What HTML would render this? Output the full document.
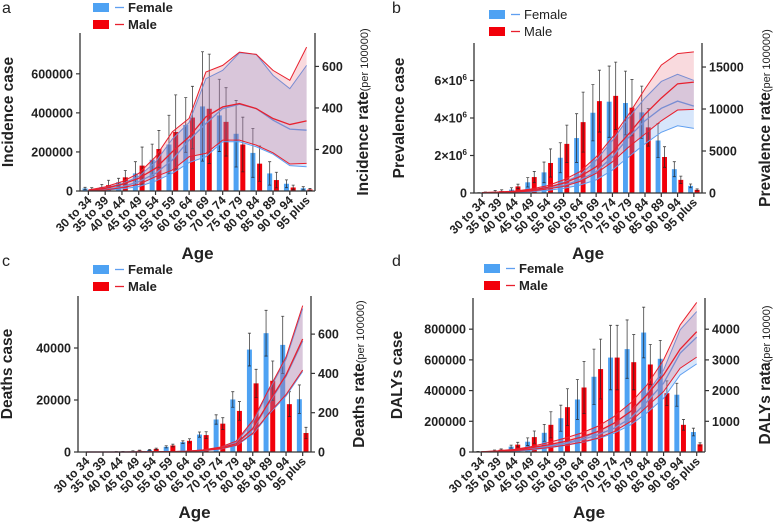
<!DOCTYPE html>
<html><head><meta charset="utf-8"><style>
body{margin:0;background:#fff;}
svg{font-family:"Liberation Sans",Arial,sans-serif;}
</style></head><body>
<svg id="chart" width="777" height="522" viewBox="0 0 777 522" xmlns="http://www.w3.org/2000/svg"></svg>
<script>
const ages = ["30 to 34","35 to 39","40 to 44","45 to 49","50 to 54","55 to 59","60 to 64","65 to 69","70 to 74","75 to 79","80 to 84","85 to 89","90 to 94","95 plus"];

// Panel a: incidence
const incF = [13000,20000,45000,90000,160000,238000,338000,433000,387000,293000,195000,90000,37000,14000];
const incM = [9000,30000,70000,130000,215000,302000,376000,421000,354000,238000,140000,56000,18000,8000];
const incFErr = [6000,14000,20000,60000,80000,150000,140000,280000,185000,170000,125000,60000,20000,8000];
const incMErr = [8000,25000,35000,95000,95000,190000,160000,280000,175000,140000,90000,40000,12000,5000];
const incRateFUp = [4,15,35,70,140,250,330,541,581,666,658,557,493,605];
const incRateFMid = [2,8,20,45,85,149,245,325,397,418,397,341,298,293];
const incRateFLo = [1,4,10,21,48,85,137,165,237,237,213,178,122,117];
const incRateMUp = [5,20,45,85,165,285,350,573,605,669,658,581,533,693];
const incRateMMid = [2,13,32,61,109,189,261,357,405,421,397,349,320,338];
const incRateMLo = [0,5,16,32,69,101,165,181,245,245,221,184,130,133];

// Panel b: prevalence
const prevF = [10000,80000,180000,570000,1100000,1880000,2930000,4280000,4870000,4800000,4300000,2800000,1270000,380000];
const prevM = [30000,100000,350000,850000,1600000,2620000,3780000,4900000,5180000,4550000,3500000,1920000,700000,170000];
const prevFErr = [10000,50000,100000,250000,550000,800000,1300000,1500000,1900000,1700000,1400000,900000,400000,100000];
const prevMErr = [20000,70000,120000,300000,750000,1000000,1600000,1650000,1800000,1500000,1000000,550000,200000,50000];
const prevRateFUp = [20,80,150,350,660,1250,2150,3900,6250,8980,11300,13280,14140,13400];
const prevRateFMid = [10,60,110,250,500,900,1560,2540,4300,6640,8600,10080,10940,10350];
const prevRateFLo = [5,40,70,150,310,550,940,1560,2730,4300,5860,7230,8000,7700];
const prevRateMUp = [40,120,230,470,860,1560,2540,4300,6640,9375,12400,15234,16600,16800];
const prevRateMMid = [40,80,200,350,660,1170,1950,3125,4880,7030,9375,11300,13000,13200];
const prevRateMLo = [0,30,120,230,470,780,1370,2340,3710,5470,7030,8600,9880,9960];

// Panel c: deaths
const dthF = [0,0,150,300,800,2000,3800,6700,12500,20200,39400,45700,41200,20300];
const dthM = [0,0,200,500,1200,2500,4300,6500,10900,15800,26400,27400,18400,7300];
const dthFErr = [0,0,50,150,200,400,500,1000,1800,3000,6300,8800,11000,5500];
const dthMErr = [0,0,50,200,300,500,800,1300,2300,3600,5400,7600,4800,2200];
const dthRateFUp = [0,0,0,1,1,2,4,10,22,50,150,318,472,730];
const dthRateFMid = [0,0,0,0,1,1,3,8,18,40,115,252,385,565];
const dthRateFLo = [0,0,0,0,0,1,2,6,14,32,90,195,285,410];
const dthRateMUp = [0,0,0,1,1,2,4,11,24,55,160,325,483,745];
const dthRateMMid = [0,0,0,0,1,1,3,9,19,42,120,258,392,575];
const dthRateMLo = [0,0,0,0,0,1,2,7,15,34,95,200,292,417];

// Panel d: DALYs
const dalF = [3000,10000,35000,67000,125000,220000,342000,490000,615000,670000,778000,607000,373000,130000];
const dalM = [3000,15000,48000,97000,177000,292000,420000,540000,615000,585000,570000,383000,177000,50000];
const dalFErr = [1000,3000,10000,25000,55000,85000,130000,180000,210000,190000,165000,120000,75000,25000];
const dalMErr = [1000,5000,15000,40000,85000,120000,170000,195000,210000,180000,130000,80000,35000,10000];
const dalRateFUp = [5,20,55,110,190,290,430,660,935,1315,1910,2670,3980,4575];
const dalRateFMid = [3,12,35,80,175,260,390,555,770,1100,1640,2240,3220,3740];
const dalRateFLo = [2,8,25,60,130,207,300,425,610,880,1280,1750,2510,2870];
const dalRateMUp = [10,40,87,175,300,445,610,830,1150,1590,2185,3000,4140,4870];
const dalRateMMid = [5,25,60,140,230,337,480,660,935,1315,1860,2510,3350,3920];
const dalRateMLo = [3,15,40,87,140,217,315,445,660,990,1480,1970,2730,3090];

const leftTicksA = [0,200000,400000,600000];
const rightTicksA = [200,400,600];
const leftTicksB = [0,2,4,6];
const rightTicksB = [0,5000,10000,15000];
const leftTicksC = [0,20000,40000];
const rightTicksC = [0,200,400,600];
const leftTicksD = [0,200000,400000,600000,800000];
const rightTicksD = [1000,2000,3000,4000];

const svg = document.getElementById('chart');
const NS = 'http://www.w3.org/2000/svg';
function mk(tag, attrs, parent, text){
  const e = document.createElementNS(NS, tag);
  for (const k in attrs) e.setAttribute(k, attrs[k]);
  if (text !== undefined) e.textContent = text;
  (parent||svg).appendChild(e);
  return e;
}

function panel(cfg){
  const g = mk('g', {});
  
  
  const x0 = cfg.x0, x1 = cfg.x1, base = cfg.base, top = cfg.top;
  const bw = (x1 - x0) / ages.length;
  const cx = i => x0 + bw * (i + 0.5);
  const yL = v => base - v / cfg.lMax * (base - top);
  const yR = v => base - v / cfg.rMax * (base - top);
  const barW = bw * 0.3;
  function bars(vals, errs, color, off, who){
    vals.forEach((v, i) => {
      const x = cx(i) + off - barW / 2;
      const r = mk('rect', {x: x, y: yL(v), width: barW, height: base - yL(v), fill: color}, g);
      
      
      const e = errs[i];
      if (e > 0) {
        const ex = cx(i) + off;
        const el = mk('path', {d: `M${ex},${yL(v+e)}V${yL(Math.max(0,v-e))}M${ex-1.5},${yL(v+e)}h3M${ex-1.5},${yL(Math.max(0,v-e))}h3`, stroke: '#222', 'stroke-width': 0.8, fill: 'none', opacity: 0.85}, g);
        
        
      }
    });
  }
  bars(cfg.f, cfg.fe, '#4ea2f3', -bw * 0.2, 'female');
  bars(cfg.m, cfg.me, '#f2000a', bw * 0.2, 'male');
  function band(up, mid, lo, stroke, fill, who){
    const pu = up.map((v, i) => `${cx(i)},${yR(v)}`);
    const pl = lo.map((v, i) => `${cx(i)},${yR(v)}`).reverse();
    const a = mk('polygon', {points: pu.concat(pl).join(' '), fill: fill, stroke: 'none'}, g);
    
    
    [up, mid, lo].forEach((arr, k) => {
      const l = mk('polyline', {points: arr.map((v, i) => `${cx(i)},${yR(v)}`).join(' '), fill: 'none', stroke: stroke, 'stroke-width': k === 1 ? 1.3 : 1}, g);
      
      
    });
  }
  band(cfg.fu, cfg.fm, cfg.fl, '#5f9ff0', 'rgba(110,165,240,0.28)', 'female');
  band(cfg.mu, cfg.mm, cfg.ml, '#e8202e', 'rgba(225,70,90,0.2)', 'male');
  const ax = mk('path', {d: `M${x0},${top}V${base}H${x1}M${x1},${top}V${base}`, stroke: '#333', 'stroke-width': 1.3, fill: 'none'}, g);
  
  
  cfg.lt.forEach(t => {
    const y = yL(t * (cfg.lUnit || 1));
    mk('line', {x1: x0 - 4, x2: x0, y1: y, y2: y, stroke: '#333', 'stroke-width': 1.2}, g);
    const tx = mk('text', {x: x0 - 7, y: y + 4.5, 'text-anchor': 'end', 'font-size': 12.5, 'font-weight': 'bold', fill: '#222'}, g, cfg.lFmt ? '' : String(t));
    if (cfg.lFmt) cfg.lFmt(tx, t);
    
    
  });
  cfg.rt.forEach(t => {
    const y = yR(t);
    mk('line', {x1: x1, x2: x1 + 4, y1: y, y2: y, stroke: '#333', 'stroke-width': 1.2}, g);
    const tx = mk('text', {x: x1 + 7, y: y + 4.5, 'font-size': 12.5, 'font-weight': 'bold', fill: '#222'}, g, String(t));
    
    
  });
  ages.forEach((a, i) => {
    mk('line', {x1: cx(i), x2: cx(i), y1: base, y2: base + 4, stroke: '#333', 'stroke-width': 1.2}, g);
    const ax_ = cx(i) + 4, ay = base + 10;
    const tx = mk('text', {x: ax_, y: ay, 'text-anchor': 'end', 'font-size': 12, 'font-weight': 'bold', fill: '#222', transform: `rotate(-45 ${ax_} ${ay})`}, g, a);
    
    
  });
  const age = mk('text', {x: (x0 + x1) / 2, y: cfg.ageY, 'text-anchor': 'middle', 'font-size': 17, 'font-weight': 'bold', fill: '#222'}, g, 'Age');
  
  
  const my = (top + base) / 2;
  const lt = mk('text', {x: cfg.lTitleX, y: my, 'text-anchor': 'middle', 'font-size': 15.5, 'font-weight': 'bold', fill: '#222', transform: `rotate(-90 ${cfg.lTitleX} ${my})`}, g, cfg.lTitle);
  
  
  const rt = mk('text', {x: cfg.rTitleX, y: my, 'text-anchor': 'middle', 'font-size': 15.5, 'font-weight': 'bold', fill: '#222', transform: `rotate(-90 ${cfg.rTitleX} ${my})`}, g);
  mk('tspan', {}, rt, cfg.rTitle);
  mk('tspan', {'font-size': 11, 'font-weight': 'normal'}, rt, cfg.rSub);
  
  
  const lg = mk('g', {}, g);
  
  
  [['Female', '#4ea2f3', '#5f9ff0'], ['Male', '#f2000a', '#e8202e']].forEach((it, k) => {
    const y = cfg.legY + k * 17;
    mk('rect', {x: cfg.legX, y: y, width: 16, height: 9, fill: it[1]}, lg);
    mk('line', {x1: cfg.legX + 22, x2: cfg.legX + 31, y1: y + 4.5, y2: y + 4.5, stroke: it[2], 'stroke-width': 1.3}, lg);
    const t = mk('text', {x: cfg.legX + 35, y: y + 9, 'font-size': 13, 'font-weight': cfg.legBold ? 'bold' : 'normal', fill: '#222'}, lg, it[0]);
    
    
  });
  const pl = mk('text', {x: cfg.px, y: cfg.py, 'font-size': 16, fill: '#222'}, g, cfg.id);
  
  
}

panel({id:'a', x0:80, x1:315, base:191, top:33, lMax:809000, rMax:761,
  f:incF, m:incM, fe:incFErr, me:incMErr,
  fu:incRateFUp, fm:incRateFMid, fl:incRateFLo, mu:incRateMUp, mm:incRateMMid, ml:incRateMLo,
  lt:leftTicksA, rt:rightTicksA, ageY:259, lTitle:'Incidence case', lTitleX:13, rTitle:'Incidence rate', rSub:'(per 100000)', rTitleX:368,
  legX:93, legY:3, legBold:true, px:2, py:13});

panel({id:'b', x0:474, x1:702, base:193, top:43, lMax:8000000, rMax:17860, lUnit:1000000,
  lFmt:(tx,t)=>{ if(t===0){tx.textContent='0';return;} tx.textContent=t+'×10'; mk('tspan',{dy:-5,'font-size':8},tx,'6'); },
  f:prevF, m:prevM, fe:prevFErr, me:prevMErr,
  fu:prevRateFUp, fm:prevRateFMid, fl:prevRateFLo, mu:prevRateMUp, mm:prevRateMMid, ml:prevRateMLo,
  lt:leftTicksB, rt:rightTicksB, ageY:259, lTitle:'Prevalence case', lTitleX:404, rTitle:'Prevalence rate', rSub:'(per 100000)', rTitleX:770,
  legX:489, legY:10, legBold:false, px:392, py:13});

panel({id:'c', x0:78, x1:311, base:452, top:296, lMax:60000, rMax:794,
  f:dthF, m:dthM, fe:dthFErr, me:dthMErr,
  fu:dthRateFUp, fm:dthRateFMid, fl:dthRateFLo, mu:dthRateMUp, mm:dthRateMMid, ml:dthRateMLo,
  lt:leftTicksC, rt:rightTicksC, ageY:518, lTitle:'Deaths case', lTitleX:12, rTitle:'Deaths rate', rSub:'(per 100000)', rTitleX:364,
  legX:93, legY:265, legBold:true, px:2, py:266});

panel({id:'d', x0:473, x1:705, base:452, top:298, lMax:1003000, rMax:5016,
  f:dalF, m:dalM, fe:dalFErr, me:dalMErr,
  fu:dalRateFUp, fm:dalRateFMid, fl:dalRateFLo, mu:dalRateMUp, mm:dalRateMMid, ml:dalRateMLo,
  lt:leftTicksD, rt:rightTicksD, ageY:518, lTitle:'DALYs case', lTitleX:402, rTitle:'DALYs rata', rSub:'(per 10000)', rTitleX:770,
  legX:484, legY:264, legBold:true, px:392, py:266});
</script>
</body></html>
